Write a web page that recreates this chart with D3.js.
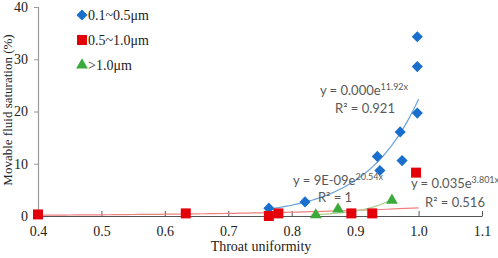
<!DOCTYPE html>
<html><head><meta charset="utf-8">
<script src="https://cdn.jsdelivr.net/npm/d3@7"></script>
<style>body{margin:0;background:#fff}svg{display:block}</style>
</head><body>
<svg id="c" width="498" height="258"></svg>
<script>
// Data
const blueX = [0.764, 0.821, 0.935, 0.939, 0.971, 0.974, 0.998, 0.998, 0.998];
const blueY = [1.5, 2.7, 11.4, 8.7, 16.1, 10.6, 19.7, 28.6, 34.3];
const redX = [0.4, 0.633, 0.764, 0.779, 0.894, 0.927, 0.996];
const redY = [0.3, 0.5, 0.0, 0.5, 0.5, 0.5, 8.3];
const greenX = [0.838, 0.873, 0.958];
const greenY = [0.2, 1.3, 3.0];
// Trend lines y = a*exp(b*x), with fitted ranges
const trendA = [1.49e-4, 0.035, 9e-9];
const trendB = [11.92, 3.801, 20.54];
const trendRange = [[0.76, 1.0], [0.4, 1.0], [0.83, 0.96]];
const xTicks = [0.4, 0.5, 0.6, 0.7, 0.8, 0.9, 1.0, 1.1];
const yTicks = [0, 10, 20, 30, 40];
const legendLabels = ["0.1~0.5μm", "0.5~1.0μm", ">1.0μm"];
const eqLabels = [["y = 0.000e", "11.92x", "R\u00b2 = 0.921"], ["y = 0.035e", "3.801x", "R\u00b2 = 0.516"], ["y = 9E-09e", "20.54x", "R\u00b2 = 1"]];

const colors = ["#1a6fcc", "#e3000b", "#3aaa3a"];
const lineColors = ["#6aa3dc", "#f08080", "#a9d18e"];

const svg = d3.select("#c");
const x = d3.scaleLinear().domain([0.4, 1.1]).range([38, 482]);
const y = d3.scaleLinear().domain([0, 40]).range([216, 7]);
const serif = "'Liberation Serif','Times New Roman',serif";
const sans = "Lato,'Liberation Sans',sans-serif";

// y axis
const ya = svg.append("g").attr("transform", "translate(38,0)")
  .call(d3.axisLeft(y).tickValues(yTicks).tickSize(4).tickPadding(6).tickFormat(d3.format("d")));
ya.select(".domain").attr("stroke", "#9a9a9a").attr("stroke-width", 1.2);
ya.selectAll(".tick line").attr("stroke", "#9a9a9a");
ya.selectAll("text").attr("font-family", serif).attr("font-size", 14).attr("fill", "#222");
// x axis
const xa = svg.append("g").attr("transform", "translate(0,216)")
  .call(d3.axisBottom(x).tickValues(xTicks).tickSize(-5).tickSizeOuter(0).tickPadding(10).tickFormat(d3.format(".1f")));
xa.select(".domain").attr("stroke", "#555").attr("stroke-width", 1);
xa.selectAll(".tick line").attr("stroke", "#555");
xa.selectAll("text").attr("font-family", serif).attr("font-size", 14).attr("fill", "#222");

// axis titles
svg.append("text").attr("transform", "translate(12,110) rotate(-90)").attr("text-anchor", "middle")
  .attr("font-family", serif).attr("font-size", 13).attr("fill", "#222").text("Movable fluid saturation (%)");
svg.append("text").attr("x", 261).attr("y", 251).attr("text-anchor", "middle")
  .attr("font-family", serif).attr("font-size", 14).attr("fill", "#222").text("Throat uniformity");

// trend lines
const line = d3.line().x(d => x(d[0])).y(d => y(d[1]));
trendA.forEach((a, i) => {
  const [x0, x1] = trendRange[i];
  const pts = d3.range(0, 61).map(k => { const xv = x0 + (x1 - x0) * k / 60; return [xv, a * Math.exp(trendB[i] * xv)]; });
  svg.append("path").attr("d", line(pts)).attr("fill", "none").attr("stroke", lineColors[i]).attr("stroke-width", 1.2);
});

// markers
const diamond = d3.symbol().type(d3.symbolSquare).size(62);
const square = d3.symbol().type(d3.symbolSquare).size(100);
const tri = d3.symbol().type(d3.symbolTriangle).size(60);
const series = [[blueX, blueY, diamond], [redX, redY, square], [greenX, greenY, tri]];
series.forEach(([xs, ys, sym], i) => {
  svg.append("g").selectAll("path").data(xs).join("path")
    .attr("transform", (d, j) => i === 0 ? `translate(${x(d)},${y(ys[j])}) rotate(45)` : `translate(${x(d)},${y(ys[j])})`)
    .attr("d", sym()).attr("fill", colors[i]);
});

// equations
const eqPos = [[364, 95, 365, 113], [455, 188, 455, 207], [338, 185, 335, 202]];
eqLabels.forEach((e, i) => {
  const [tx, ty, rx, ry] = eqPos[i];
  const t = svg.append("text").attr("x", tx).attr("y", ty).attr("text-anchor", "middle")
    .attr("font-family", sans).attr("font-size", 13).attr("fill", "#595959");
  t.append("tspan").text(e[0]);
  t.append("tspan").attr("dy", -5).attr("font-size", 9).text(e[1]);
  svg.append("text").attr("x", rx).attr("y", ry).attr("text-anchor", "middle")
    .attr("font-family", sans).attr("font-size", 13).attr("fill", "#595959").text(e[2]);
});

// legend
const legSyms = [diamond, square, tri];
legendLabels.forEach((l, i) => {
  const ly = 15 + i * 25;
  svg.append("path").attr("transform", i === 0 ? `translate(82,${ly}) rotate(45)` : `translate(82,${ly})`)
    .attr("d", legSyms[i]()).attr("fill", colors[i]);
  svg.append("text").attr("x", 88).attr("y", ly + 5).attr("font-family", serif).attr("font-size", 14)
    .attr("fill", "#222").text(l);
});
</script>
</body></html>
